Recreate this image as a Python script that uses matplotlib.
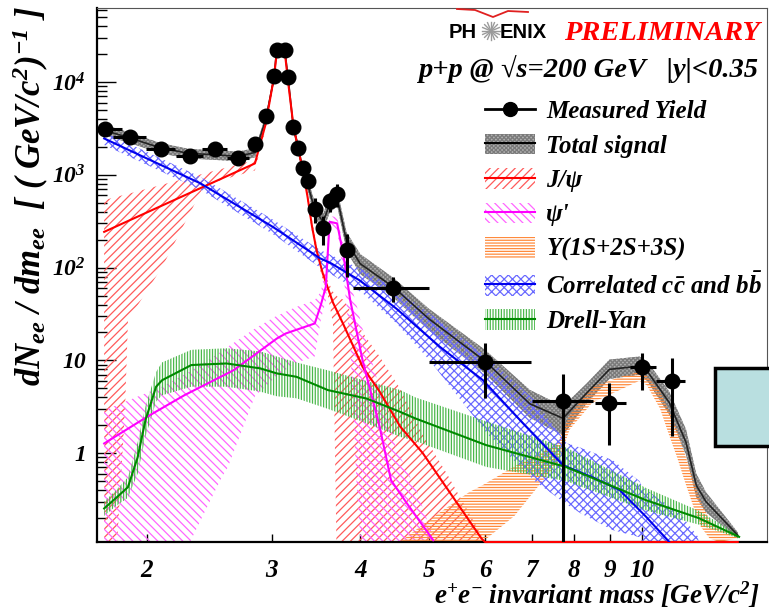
import numpy as np
import matplotlib
matplotlib.use("Agg")
import matplotlib.pyplot as plt
from matplotlib.patches import Patch, Rectangle
from matplotlib.lines import Line2D
from matplotlib.legend_handler import HandlerTuple
from matplotlib.ticker import FixedLocator, FixedFormatter, NullFormatter, LogLocator

plt.rcParams.update({
    "mathtext.fontset": "custom",
    "mathtext.rm": "Liberation Serif:bold:italic",
    "mathtext.it": "Liberation Serif:bold:italic",
    "mathtext.bf": "Liberation Serif:bold:italic",
    "mathtext.sf": "Liberation Serif:bold:italic",
    "hatch.linewidth": 0.9,
})
SERIF = dict(family="Liberation Serif", weight="bold", style="italic")

# ---------------- measured yield ----------------
mass = [1.745, 1.893, 2.091, 2.297, 2.494, 2.690, 2.843, 2.943, 3.021, 3.047, 3.131, 3.164,
        3.216, 3.269, 3.316, 3.370, 3.447, 3.544, 3.621, 3.712, 3.826, 4.45, 5.99, 7.73,
        8.99, 10.0, 11.0]
yld = [3115, 2555, 1895, 1594, 1895, 1527, 2160, 4300, 11520, 22100, 22100, 11240,
       3300, 1930, 1190, 863, 424, 267, 517, 615, 154, 60.6, 9.65, 3.64,
       3.43, 8.4, 6.0]
mass_lo = [1.645, 1.793, 1.991, 2.197, 2.394, 2.590, 2.813, 2.913, 2.991, 3.017, 3.101, 3.134,
           3.186, 3.239, 3.286, 3.340, 3.417, 3.514, 3.591, 3.682, 3.796, 3.9, 5.0, 7.0,
           8.59, 9.6, 10.47]
mass_hi = [1.845, 1.993, 2.191, 2.397, 2.594, 2.790, 2.873, 2.973, 3.051, 3.077, 3.161, 3.194,
           3.246, 3.299, 3.346, 3.400, 3.477, 3.574, 3.651, 3.742, 3.856, 5.0, 6.96, 8.51,
           9.49, 10.47, 11.5]
yld_lo = [3020, 2480, 1840, 1545, 1840, 1480, 2100, 4200, 11300, 21800, 21800, 11000,
          3200, 1850, 1120, 790, 300, 175, 400, 450, 80, 42.8, 3.89, 0.01,
          1.22, 4.78, 1.52]
yld_hi = [3210, 2630, 1950, 1645, 1950, 1575, 2220, 4400, 11750, 22400, 22400, 11480,
          3400, 2010, 1260, 940, 561, 360, 640, 794, 230, 78.4, 15.5, 7.2,
          5.65, 12.1, 10.5]

# ---------------- total signal ----------------
tot_m = [1.745, 1.893, 2.091, 2.297, 2.494, 2.690, 2.843, 2.943, 3.021, 3.047, 3.131, 3.164,
         3.216, 3.269, 3.316, 3.370, 3.447, 3.544, 3.621, 3.712, 3.826, 4.00, 4.45, 5.00,
         6.00, 6.94, 7.73, 8.34, 8.99, 9.91, 10.18, 10.92, 11.53, 11.92, 12.30, 13.64]
tot_y = [3000, 2500, 1950, 1700, 1650, 1580, 1750, 4000, 11000, 21500, 21500, 11000,
         3400, 1950, 1150, 800, 430, 310, 480, 560, 190, 110, 62, 28,
         9.8, 3.4, 2.37, 4.4, 8.0, 8.66, 7.5, 3.5, 1.3, 0.45, 0.30, 0.13]
tot_hi = [3450, 2850, 2200, 1900, 1850, 1780, 1950, 4400, 12000, 23500, 23500, 12000,
          3750, 2200, 1300, 920, 520, 380, 580, 680, 240, 140, 78, 36,
          13, 4.8, 3.2, 5.6, 10.2, 11.0, 9.6, 4.6, 1.8, 0.6, 0.38, 0.14]
tot_lo = [2650, 2200, 1700, 1500, 1450, 1400, 1550, 3600, 10000, 19500, 19500, 10000,
          3050, 1700, 1000, 690, 350, 250, 390, 460, 150, 85, 48, 21,
          7.2, 2.4, 1.55, 3.4, 6.3, 7.0, 5.9, 2.6, 0.95, 0.33, 0.23, 0.12]

# ---------------- J/psi ----------------
jpsi_m = [1.74, 2.07, 2.41, 2.84, 2.94, 3.02, 3.05, 3.13, 3.16, 3.22, 3.27, 3.32, 3.37,
          3.42, 3.47, 3.54, 3.66, 3.79, 4.03, 4.26, 4.55, 4.90, 5.93, 6.00, 13.64]
jpsi_y = [243, 444, 752, 1328, 3500, 11000, 21000, 21000, 10800, 3300, 1900, 1100, 580,
          275, 154, 87, 42, 24, 8.5, 4.6, 1.95, 1.0, 0.12, 0.11, 0.11]
jpsi_band_m = [1.74, 1.815, 1.862, 1.88, 2.10, 2.41, 2.84, 2.94, 3.02, 3.05, 3.13, 3.16,
               3.22, 3.27, 3.32, 3.37, 3.42, 3.47, 3.54, 3.60, 3.66, 3.72, 3.79, 4.03,
               4.26, 4.55, 4.90, 5.30, 5.93]
jpsi_band_hi = [534, 582, 612, 623, 783, 1037, 1443, 3900, 12000, 23000, 23000, 12000,
                3700, 2100, 1250, 660, 320, 180, 100, 72, 55, 48, 45, 20,
                11, 5.0, 1.6, 0.6, 0.13]
jpsi_band_lo = [0.01, 0.11, 2.9, 27, 101, 778, 1117, 3100, 10000, 19000, 19000, 9800,
                2950, 1700, 980, 500, 240, 130, 74, 50, 25, 0.01, 0.01, 0.01,
                0.01, 0.01, 0.01, 0.01, 0.01]

# ---------------- psi' ----------------
psip_m = [1.74, 2.00, 2.26, 2.65, 3.05, 3.14, 3.45, 3.52, 3.576, 3.62, 3.71, 3.79, 3.87,
          4.03, 4.26, 4.42, 4.65, 5.07]
psip_y = [1.27, 2.46, 4.22, 7.83, 17.2, 19.5, 25, 40, 62, 312, 300, 131, 45,
          10, 1.92, 0.51, 0.29, 0.115]
psip_band_m = [1.74, 2.10, 2.30, 2.55, 2.60, 2.84, 3.03, 3.23, 3.45, 3.52, 3.58, 3.62,
               3.71, 3.79, 3.87, 3.95, 4.03, 4.26, 4.50, 4.80, 5.10]
psip_band_hi = [2.9, 5.2, 7.6, 12.5, 14, 22, 29.5, 37, 44.6, 55, 110, 360,
                350, 170, 70, 40, 22, 5.0, 1.1, 0.4, 0.11]
psip_band_lo = [0.01, 0.01, 0.11, 0.55, 0.7, 4.1, 6.5, 9.3, 11, 28, 45, 260,
                250, 80, 15, 0.5, 0.05, 0.01, 0.01, 0.01, 0.01]

# ---------------- Upsilon(1S+2S+3S) ----------------
ups_m = [4.55, 5.0, 5.7, 5.95, 6.6, 7.1, 7.6, 7.9, 8.5, 9.3, 9.9, 10.15, 10.6, 10.9,
         11.2, 11.5, 11.8, 12.1, 12.45, 12.85, 13.6]
ups_hi = [0.11, 0.19, 0.38, 0.45, 0.72, 0.95, 1.3, 2.6, 5.2, 6.6, 7.5, 6.8, 4.6, 2.9,
          1.8, 0.95, 0.52, 0.30, 0.19, 0.15, 0.13]
ups_lo = [0.03, 0.05, 0.09, 0.11, 0.21, 0.42, 0.8, 1.8, 3.5, 4.8, 6.0, 5.4, 3.0, 1.6,
          0.90, 0.48, 0.27, 0.16, 0.12, 0.11, 0.12]

# ---------------- correlated c-cbar and b-bbar ----------------
cc_m = [1.74, 2.0, 2.38, 3.01, 3.51, 3.64, 3.99, 4.50, 5.18, 5.96, 6.79, 7.73, 8.5,
        9.29, 10.13, 10.92]
cc_y = [2470, 1500, 809, 275, 126, 111, 73, 36, 14, 6.1, 2.09, 0.74, 0.55,
        0.40, 0.205, 0.11]
cc_band_m = [1.74, 2.38, 3.01, 3.51, 4.03, 4.50, 5.01, 6.05, 7.05, 7.82, 8.17, 9.08,
             9.91, 10.0, 11.3, 12.0]
cc_band_hi = [2900, 950, 330, 155, 95, 58, 32, 10.8, 3.7, 1.28, 1.15, 0.84,
              0.5, 0.43, 0.225, 0.124]
cc_band_lo = [2100, 690, 230, 100, 53, 25, 10, 1.6, 0.5, 0.28, 0.226, 0.148,
              0.124, 0.11, 0.05, 0.05]

# ---------------- Drell-Yan ----------------
dy_m = [1.74, 1.81, 1.88, 1.94, 1.99, 2.06, 2.10, 2.31, 2.59, 2.89, 3.05, 3.25, 3.60,
        4.08, 4.55, 4.78, 6.02, 7.8, 10.13, 12.0, 13.7]
dy_y = [0.253, 0.33, 0.43, 0.9, 2.27, 5.2, 6.1, 8.9, 9.26, 8.19, 7.23, 6.65, 4.78,
        3.88, 2.79, 2.37, 1.22, 0.71, 0.31, 0.2, 0.125]
dy_hi = [0.30, 0.40, 0.55, 1.3, 3.2, 7.5, 9.5, 13, 13.5, 12.5, 11, 9.5, 7.8,
         6.0, 4.8, 4.0, 2.2, 1.15, 0.42, 0.24, 0.13]
dy_lo = [0.21, 0.27, 0.33, 0.6, 1.5, 3.6, 4.2, 5.2, 5.2, 4.6, 4.1, 3.9, 3.0,
         2.1, 1.5, 1.35, 0.71, 0.5, 0.24, 0.17, 0.12]

x_ticks = [2, 3, 4, 5, 6, 7, 8, 9, 10]
y_ticks = [1, 10, 100, 1000, 10000]
y_tick_labels = ["1", "10", r"$10^{2}$", r"$10^{3}$", r"$10^{4}$"]

RED, RED_H = "#ff0000", "#ff5a5a"
MAG, MAG_H = "#ff00ff", "#ff66ff"
ORA_H = "#ff8a3c"
BLU, BLU_H = "#0000ee", "#6a6aff"
GRN, GRN_H = "#008a00", "#4cb84c"

H_RED = "/" * 4
H_MAG = "\\" * 4
H_ORA = "-" * 6
H_BLU = "x" * 4
H_GRN = "|" * 6
H_TOT = "x" * 8

fig = plt.figure(figsize=(7.69, 6.12), dpi=100)
ax = fig.add_axes([97 / 769, 1 - 542 / 612, 670 / 769, 534 / 612])
ax.set_xscale("log")
ax.set_yscale("log")
ax.set_xlim(1.7, 15)
ax.set_ylim(0.11, 6.3e4)

# bands
ax.fill_between(tot_m, tot_lo, tot_hi, facecolor="#b0b0b0", edgecolor="#7a7a7a",
                hatch=H_TOT, linewidth=0, zorder=1)
ax.fill_between(jpsi_band_m, jpsi_band_lo, jpsi_band_hi, facecolor="none",
                edgecolor=RED_H, hatch=H_RED, linewidth=0, zorder=2)
ax.fill_between(psip_band_m, psip_band_lo, psip_band_hi, facecolor="none",
                edgecolor=MAG_H, hatch=H_MAG, linewidth=0, zorder=2)
ax.fill_between(ups_m, ups_lo, ups_hi, facecolor="none",
                edgecolor=ORA_H, hatch=H_ORA, linewidth=0, zorder=2)
ax.fill_between(cc_band_m, cc_band_lo, cc_band_hi, facecolor="none",
                edgecolor=BLU_H, hatch=H_BLU, linewidth=0, zorder=2)
ax.fill_between(dy_m, dy_lo, dy_hi, facecolor="none",
                edgecolor=GRN_H, hatch=H_GRN, linewidth=0, zorder=2)

# central curves
ax.plot(tot_m, tot_y, color="#222222", lw=1.2, zorder=3)
ax.plot(jpsi_m, jpsi_y, color=RED, lw=1.5, zorder=4, clip_on=False)
ax.plot(psip_m, psip_y, color=MAG, lw=1.5, zorder=4)
ax.plot(cc_m, cc_y, color=BLU, lw=1.5, zorder=4)
ax.plot(dy_m, dy_y, color=GRN, lw=1.5, zorder=4)

# measured points
m = np.array(mass)
y = np.array(yld)
xerr = [m - np.array(mass_lo), np.array(mass_hi) - m]
yerr = [y - np.array(yld_lo), np.array(yld_hi) - y]
ax.errorbar(m, y, xerr=xerr, yerr=yerr, fmt="o", color="black", ms=10.5,
            elinewidth=2.2, capsize=0, zorder=6)

# axes styling
for side in ("left", "bottom"):
    ax.spines[side].set_linewidth(1.6)
for side in ("top", "right"):
    ax.spines[side].set_linewidth(0.8)
    ax.spines[side].set_color("#555555")

ax.xaxis.set_major_locator(FixedLocator([10]))
ax.xaxis.set_major_formatter(FixedFormatter(["10"]))
ax.xaxis.set_minor_locator(FixedLocator(x_ticks[:-1]))
ax.xaxis.set_minor_formatter(FixedFormatter([str(v) for v in x_ticks[:-1]]))
ax.yaxis.set_major_locator(FixedLocator(y_ticks))
ax.yaxis.set_major_formatter(FixedFormatter(y_tick_labels))
ax.yaxis.set_minor_locator(LogLocator(base=10, subs=np.arange(2, 10), numticks=20))
ax.yaxis.set_minor_formatter(NullFormatter())
ax.tick_params(axis="x", which="both", direction="in", top=False, pad=12)
ax.tick_params(axis="x", which="major", length=11, width=1.0)
ax.tick_params(axis="x", which="minor", length=5.5, width=1.0)
ax.tick_params(axis="y", which="both", direction="in", right=False, pad=8)
ax.tick_params(axis="y", which="major", length=14, width=1.0)
ax.tick_params(axis="y", which="minor", length=7, width=1.0)
for lab in ax.get_xticklabels(which="both"):
    lab.set_fontproperties(dict(SERIF, size=18))
for lab in ax.get_yticklabels():
    lab.set_fontproperties(dict(SERIF, size=17))

# axis titles
fig.text(760 / 769, 1 - 604 / 612, "e$^{+}$e$^{-}$ invariant mass [GeV/c$^{2}$]",
         ha="right", va="baseline", size=19.5, **SERIF)
fig.text(31 / 769, 1 - 6 / 612,
         "dN$_{ee}$ / dm$_{ee}$  [ ( GeV/c$^{2}$)$^{-1}$ ]",
         rotation=90, ha="center", va="top", size=25, **SERIF)

# header
fig.text(449 / 769, 1 - 38 / 612, "PH", ha="left", va="baseline", size=14.5,
         family="Liberation Sans", weight="bold")
fig.text(500 / 769, 1 - 38 / 612, "ENIX", ha="left", va="baseline", size=14.5,
         family="Liberation Sans", weight="bold")
cx, cy = 491 / 769, 1 - 31 / 612
for a in np.linspace(0, np.pi, 9)[:-1]:
    dx, dy = 9 * np.cos(a) / 769, 9 * np.sin(a) / 612
    fig.add_artist(Line2D([cx - dx, cx + dx], [cy - dy, cy + dy], color="#9a9a9a",
                          lw=1.0, transform=fig.transFigure))
fig.add_artist(Line2D([457 / 769, 475 / 769, 493 / 769, 508 / 769, 528 / 769],
                      [1 - 9 / 612, 1 - 10 / 612, 1 - 17 / 612, 1 - 11 / 612, 1 - 12 / 612],
                      color="#e02020", lw=1.3, transform=fig.transFigure))
fig.text(760 / 769, 1 - 40 / 612, "PRELIMINARY", ha="right", va="baseline",
         size=20.5, color="#ff0000", **SERIF)
fig.text(758 / 769, 1 - 77 / 612, "p+p @ \u221as=200 GeV   |y|<0.35", ha="right",
         va="baseline", size=20.5, **SERIF)

# legend
handles = [
    Line2D([], [], color="black", lw=2, marker="o", ms=10),
    (Patch(facecolor="#b0b0b0", edgecolor="#7a7a7a", hatch=H_TOT, lw=0),
     Line2D([], [], color="black", lw=1.5)),
    (Patch(facecolor="none", edgecolor=RED_H, hatch=H_RED, lw=0),
     Line2D([], [], color=RED, lw=1.5)),
    (Patch(facecolor="none", edgecolor=MAG_H, hatch=H_MAG, lw=0),
     Line2D([], [], color=MAG, lw=1.5)),
    Patch(facecolor="none", edgecolor=ORA_H, hatch=H_ORA, lw=0),
    (Patch(facecolor="none", edgecolor=BLU_H, hatch=H_BLU, lw=0),
     Line2D([], [], color=BLU, lw=1.5)),
    (Patch(facecolor="none", edgecolor=GRN_H, hatch=H_GRN, lw=0),
     Line2D([], [], color=GRN, lw=1.5)),
]
labels = ["Measured Yield", "Total signal", "J/\u03c8", "\u03c8'", "\u03a5(1S+2S+3S)",
          r"Correlated $c\bar{c}$ and $b\bar{b}$", "Drell-Yan"]
leg = ax.legend(handles, labels, handler_map={tuple: HandlerTuple(ndivide=1)},
                loc="upper left", bbox_to_anchor=(485 / 769, 1 - 99 / 612),
                bbox_transform=fig.transFigure, frameon=False, borderpad=0,
                borderaxespad=0, handlelength=2.0, handleheight=0.9,
                handletextpad=0.45, labelspacing=0.42,
                prop=dict(SERIF, size=18))
leg.set_zorder(10)

# side panel
fig.add_artist(Rectangle((715 / 769, 1 - 446 / 612), 70 / 769, 78 / 612,
                         facecolor="#b9dfe0", edgecolor="black", lw=2.5,
                         transform=fig.transFigure, clip_on=False, zorder=20))

fig.savefig("out.png", dpi=100)
